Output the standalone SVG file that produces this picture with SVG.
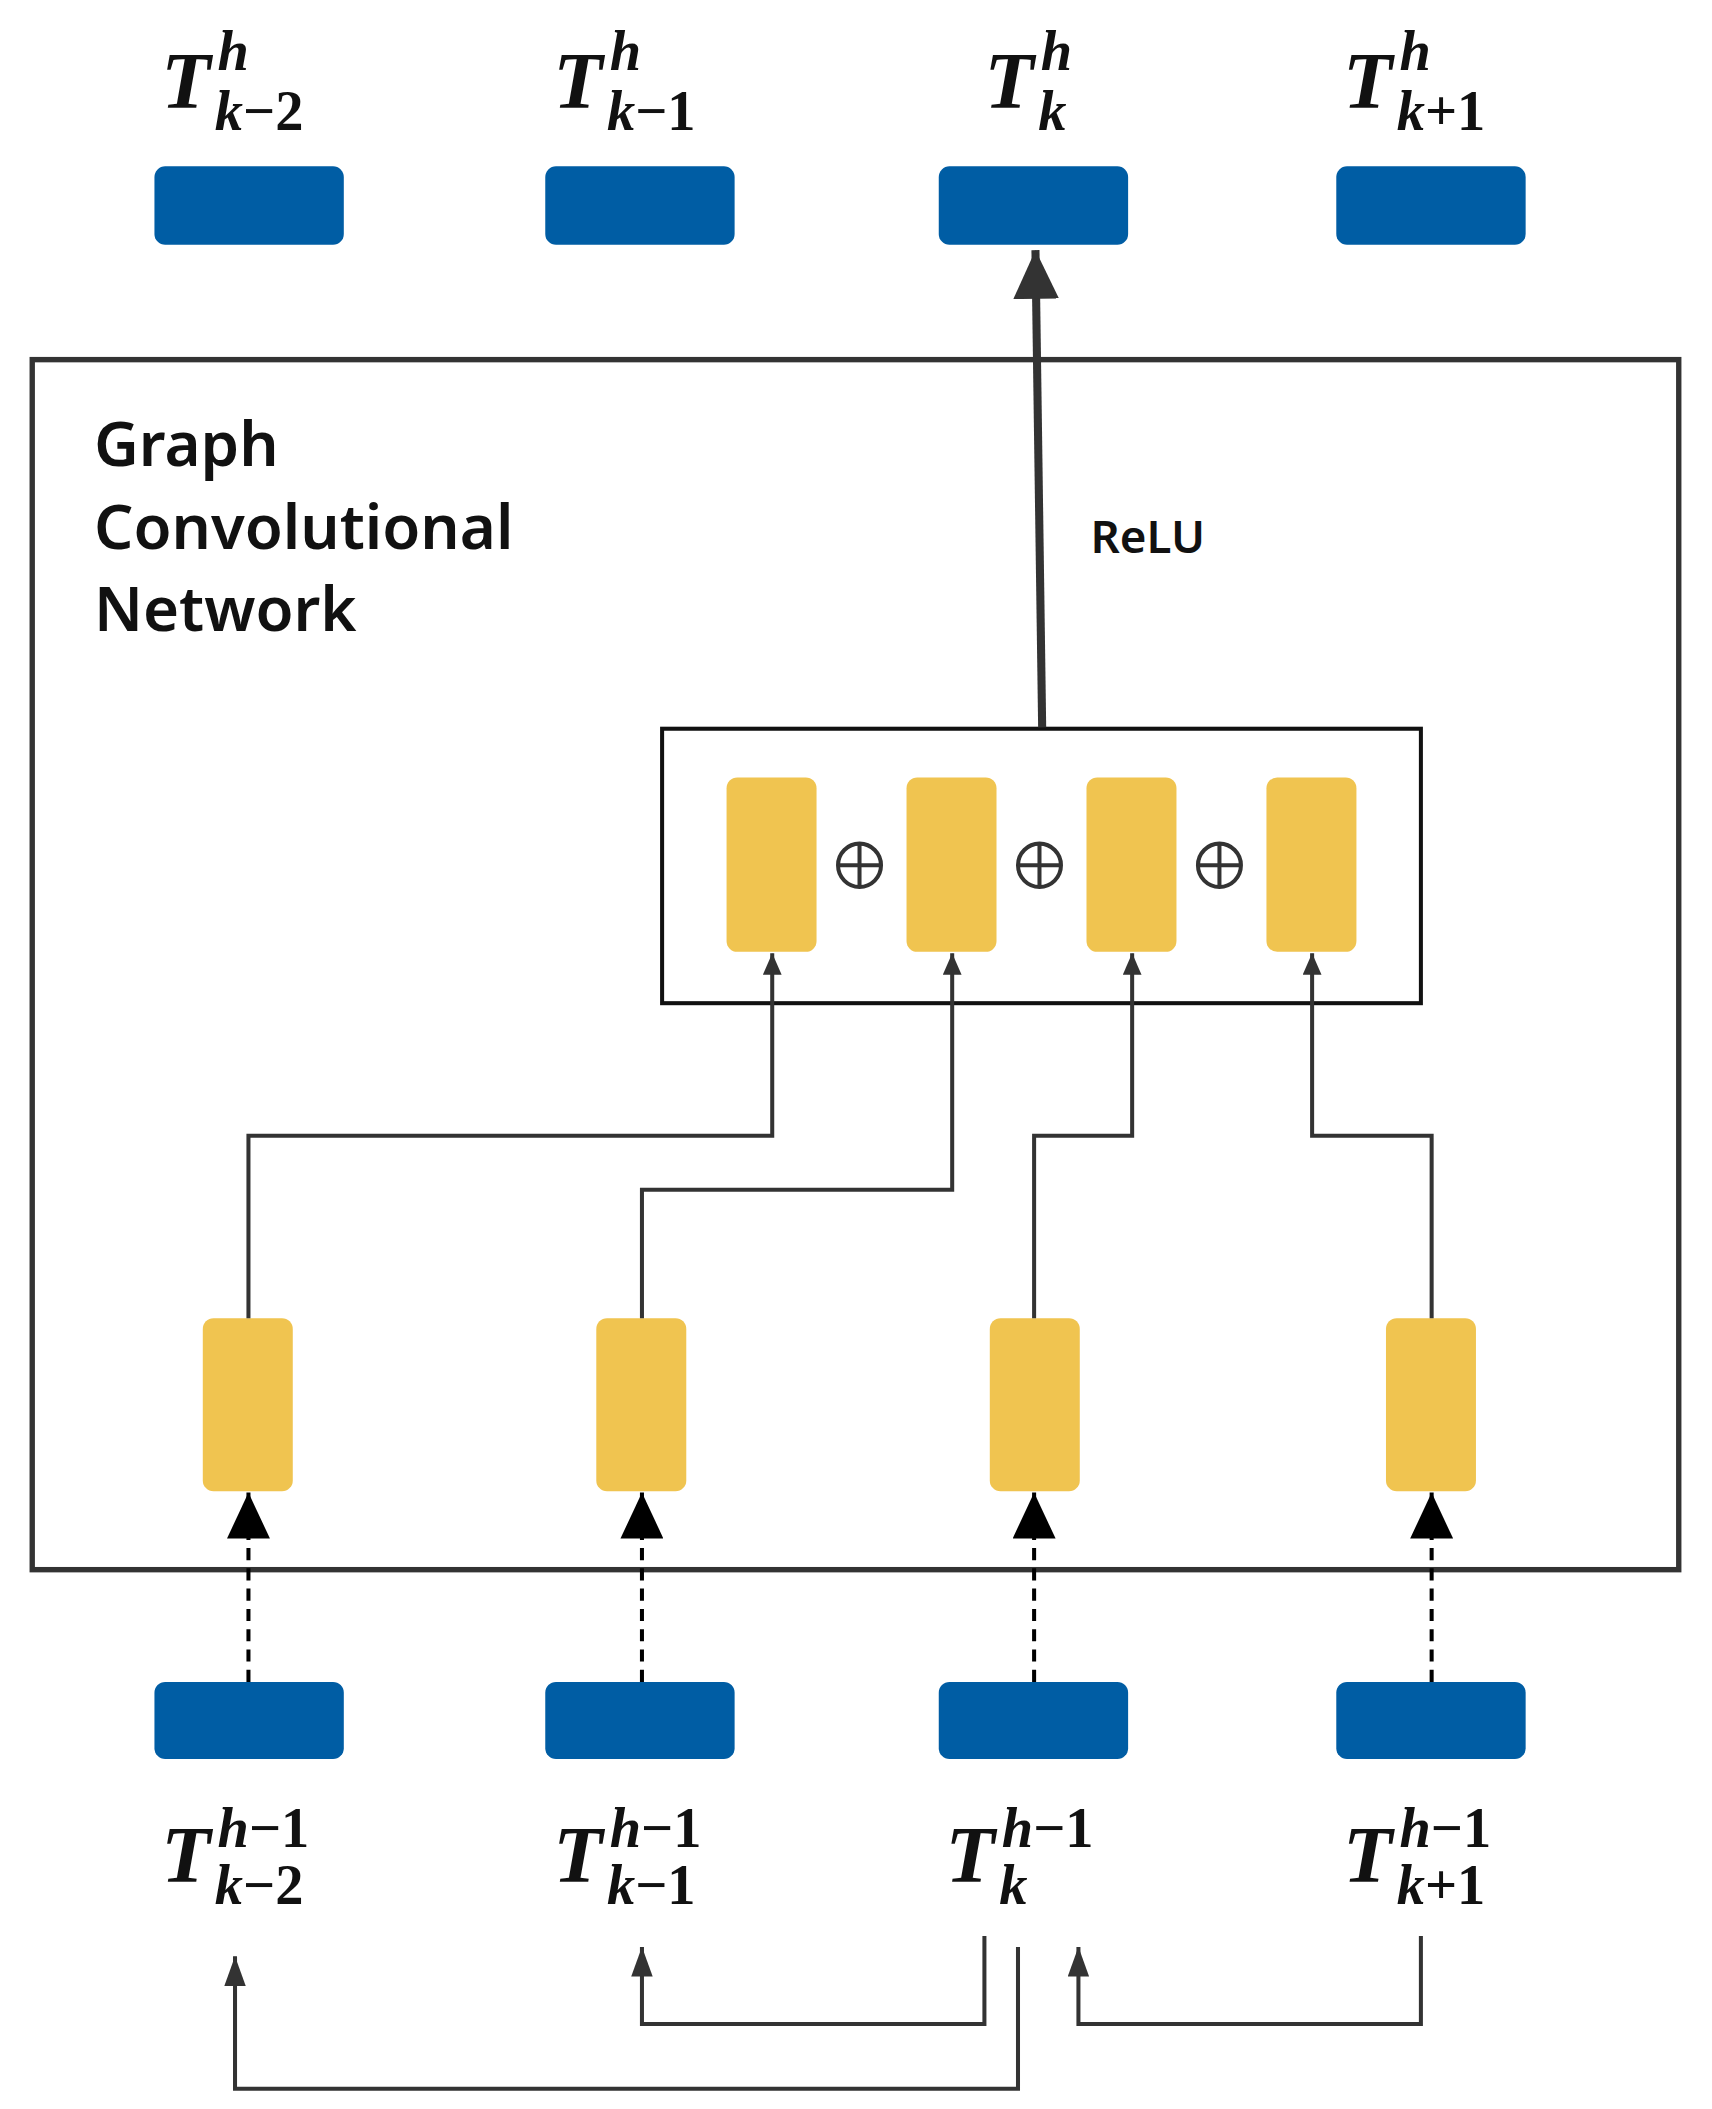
<svg xmlns="http://www.w3.org/2000/svg" width="1712" height="2109" viewBox="0 0 1712 2109">
<style>
.blue{fill:#005DA4}
.yel{fill:#F0C450}
.ln{fill:none;stroke:#333;stroke-width:3}
.m{font-family:"Liberation Serif",serif;font-weight:bold;fill:#111}
.it{font-style:italic}
.t{font-family:"Noto Sans","Open Sans",sans-serif;font-weight:600;fill:#111}
</style>
<defs>
<marker id="sa" markerWidth="16" markerHeight="14" refX="16" refY="7" orient="auto" markerUnits="userSpaceOnUse" viewBox="0 0 16 14"><path d="M0,0 L16,7 L0,14 Z" fill="#333"/></marker>
<marker id="sb" markerWidth="22" markerHeight="16" refX="22" refY="8" orient="auto" markerUnits="userSpaceOnUse" viewBox="0 0 22 16"><path d="M0,0 L22,8 L0,16 Z" fill="#333"/></marker>
<marker id="ba" markerWidth="34" markerHeight="32" refX="34" refY="16" orient="auto" markerUnits="userSpaceOnUse" viewBox="0 0 34 32"><path d="M0,0 L34,16 L0,32 Z" fill="#000"/></marker>
<marker id="bt" markerWidth="36" markerHeight="34" refX="36" refY="17" orient="auto" markerUnits="userSpaceOnUse" viewBox="0 0 36 34"><path d="M0,0 L36,17 L0,34 Z" fill="#333"/></marker>
</defs>
<g transform="scale(1.343,1.352)">
<g id="frame"><rect x="24" y="266" width="1226" height="895" fill="none" stroke="#333" stroke-width="4"/>
<text class="t" x="70" y="345" font-size="46">Graph</text>
<text class="t" x="70" y="406" font-size="46">Convolutional</text>
<text class="t" x="70" y="467" font-size="46">Network</text></g>
<g id="top">
<rect class="blue" x="115" y="123" width="141" height="58" rx="8"/>
<rect class="blue" x="406" y="123" width="141" height="58" rx="8"/>
<rect class="blue" x="699" y="123" width="141" height="58" rx="8"/>
<rect class="blue" x="995" y="123" width="141" height="58" rx="8"/>
<text class="m" font-size="60" x="120" y="80"><tspan class="it">T</tspan><tspan class="it" font-size="42" x="162" y="52">h</tspan><tspan font-size="42" x="160" y="96"><tspan class="it">k</tspan>−2</tspan></text>
<text class="m" font-size="60" x="412" y="80"><tspan class="it">T</tspan><tspan class="it" font-size="42" x="454" y="52">h</tspan><tspan font-size="42" x="452" y="96"><tspan class="it">k</tspan>−1</tspan></text>
<text class="m" font-size="60" x="733" y="80"><tspan class="it">T</tspan><tspan class="it" font-size="42" x="775" y="52">h</tspan><tspan class="it" font-size="42" x="773" y="96">k</tspan></text>
<text class="m" font-size="60" x="1000" y="80"><tspan class="it">T</tspan><tspan class="it" font-size="42" x="1042" y="52">h</tspan><tspan font-size="42" x="1040" y="96"><tspan class="it">k</tspan>+1</tspan></text>
</g>
<g id="agg">
<rect x="493" y="539" width="565" height="203" fill="none" stroke="#111" stroke-width="3"/>
<rect class="yel" x="541" y="575" width="67" height="129" rx="8"/>
<rect class="yel" x="675" y="575" width="67" height="129" rx="8"/>
<rect class="yel" x="809" y="575" width="67" height="129" rx="8"/>
<rect class="yel" x="943" y="575" width="67" height="129" rx="8"/>
<g fill="none" stroke="#333" stroke-width="3">
<circle cx="640" cy="640" r="16"/><path d="M624,640H656M640,624V656"/>
<circle cx="774" cy="640" r="16"/><path d="M758,640H790M774,624V656"/>
<circle cx="908" cy="640" r="16"/><path d="M892,640H924M908,624V656"/>
</g>
</g>
<g id="mid">
<rect class="yel" x="151" y="975" width="67" height="128" rx="8"/>
<rect class="yel" x="444" y="975" width="67" height="128" rx="8"/>
<rect class="yel" x="737" y="975" width="67" height="128" rx="8"/>
<rect class="yel" x="1032" y="975" width="67" height="128" rx="8"/>
</g>
<g id="bottom">
<rect class="blue" x="115" y="1244" width="141" height="57" rx="8"/>
<rect class="blue" x="406" y="1244" width="141" height="57" rx="8"/>
<rect class="blue" x="699" y="1244" width="141" height="57" rx="8"/>
<rect class="blue" x="995" y="1244" width="141" height="57" rx="8"/>
<text class="m" font-size="60" x="120" y="1392"><tspan class="it">T</tspan><tspan font-size="42" x="162" y="1366"><tspan class="it">h</tspan>−1</tspan><tspan font-size="42" x="160" y="1408"><tspan class="it">k</tspan>−2</tspan></text>
<text class="m" font-size="60" x="412" y="1392"><tspan class="it">T</tspan><tspan font-size="42" x="454" y="1366"><tspan class="it">h</tspan>−1</tspan><tspan font-size="42" x="452" y="1408"><tspan class="it">k</tspan>−1</tspan></text>
<text class="m" font-size="60" x="704" y="1392"><tspan class="it">T</tspan><tspan font-size="42" x="746" y="1366"><tspan class="it">h</tspan>−1</tspan><tspan class="it" font-size="42" x="744" y="1408">k</tspan></text>
<text class="m" font-size="60" x="1000" y="1392"><tspan class="it">T</tspan><tspan font-size="42" x="1042" y="1366"><tspan class="it">h</tspan>−1</tspan><tspan font-size="42" x="1040" y="1408"><tspan class="it">k</tspan>+1</tspan></text>
</g>
<g id="connectors">
<path d="M776,538L771,185" fill="none" stroke="#333" stroke-width="6" marker-end="url(#bt)"/>
<text class="t" x="812" y="409" font-size="34">ReLU</text>
<path class="ln" d="M185,975V840H575V705" marker-end="url(#sa)"/>
<path class="ln" d="M478,975V880H709V705" marker-end="url(#sa)"/>
<path class="ln" d="M770,975V840H843V705" marker-end="url(#sa)"/>
<path class="ln" d="M1066,975V840H977V705" marker-end="url(#sa)"/>
<g stroke="#000" stroke-width="3" stroke-dasharray="9,6" fill="none">
<path d="M185,1244V1104" marker-end="url(#ba)"/>
<path d="M478,1244V1104" marker-end="url(#ba)"/>
<path d="M770,1244V1104" marker-end="url(#ba)"/>
<path d="M1066,1244V1104" marker-end="url(#ba)"/>
</g>
<path class="ln" d="M733,1432V1497H478V1440" marker-end="url(#sb)"/>
<path class="ln" d="M758,1440V1545H175V1447" marker-end="url(#sb)"/>
<path class="ln" d="M1058,1432V1497H803V1440" marker-end="url(#sb)"/>
</g>
</g>
</svg>
